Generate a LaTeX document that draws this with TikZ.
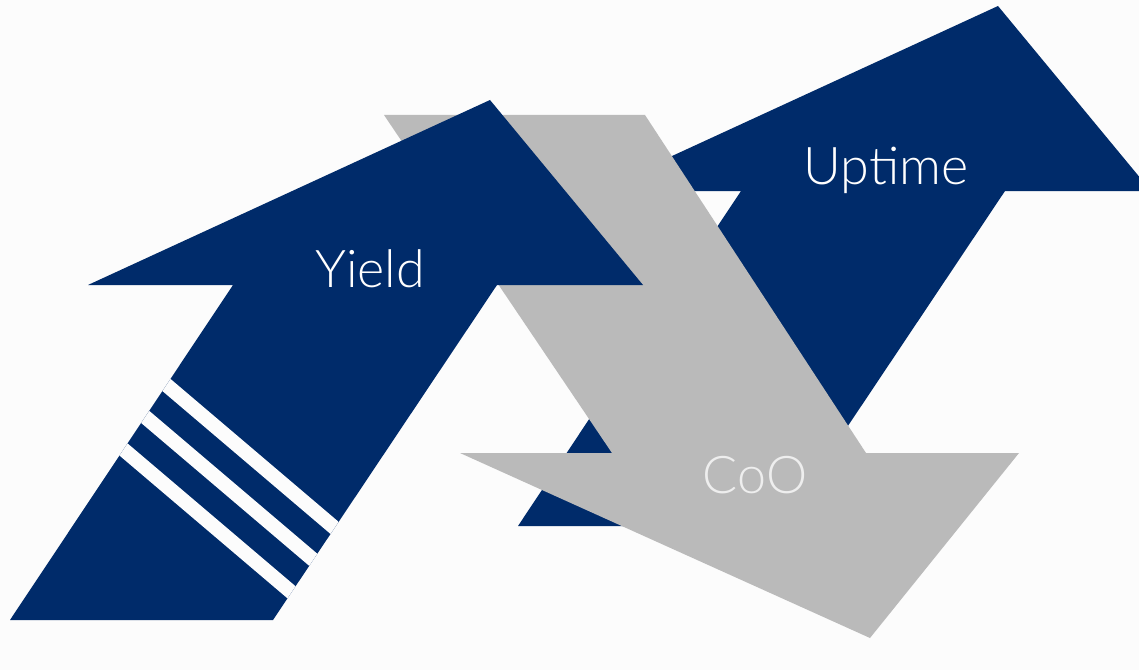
\documentclass[tikz,border=0pt]{standalone}
\usepackage{fontspec}
\setmainfont{Lato Light}
\usepackage{tikz}
\definecolor{arrowblue}{RGB}{0,43,106}
\definecolor{arrowgray}{RGB}{186,186,186}
\definecolor{paper}{RGB}{252,252,252}
\definecolor{cootext}{RGB}{238,238,238}
\tikzset{
  bluearrow/.style={
      fill=arrowblue,
      draw=none,
  },
  grayarrow/.style={
      fill=arrowgray,
      draw=none,
  },
  arrowtext/.style={
      text=white,
      anchor=base,
      inner sep=0pt,
      font=\fontsize{37}{40}\selectfont,
  },
  stripe/.style={
      fill=paper,
      draw=none,
  },
}

\begin{document}
\begin{tikzpicture}[x=0.025cm,y=-0.025cm]
  \fill[paper] (0,0) rectangle (1139,670);
  \useasboundingbox (0,0) rectangle (1139,670);
  \clip (0,0) rectangle (1139,670);
  % uptime arrow, in the back
  \fill[bluearrow] (998,6) -- (1151,191) -- (1005,191) -- (781,526)
    -- (518,526) -- (741,191) -- (596,191) -- cycle;
  \node[arrowtext] (uptime) at (886,185) {Uptime};
  % CoO arrow, pointing down
  \fill[grayarrow] (384,115) -- (645,115) -- (866,453) -- (1019,453)
    -- (870,638) -- (460,453) -- (612,453) -- cycle;
  \node[arrowtext,text=cootext] (coo) at (755,493) {CoO};
  % yield arrow, in front
  \fill[bluearrow] (490,100) -- (643,285) -- (497,285) -- (273,620)
    -- (10,620) -- (233,285) -- (88,285) -- cycle;
  \begin{scope}
    \clip (233,285) -- (497,285) -- (273,620) -- (10,620) -- cycle;
    \foreach \c in {380,430,481}
      \fill[stripe] (100,\c-61) -- ++(300,255) -- ++(0,19) -- ++(-300,-255) -- cycle;
  \end{scope}
  \node[arrowtext] (yield) at (370,287) {Yield};
\end{tikzpicture}
\end{document}
